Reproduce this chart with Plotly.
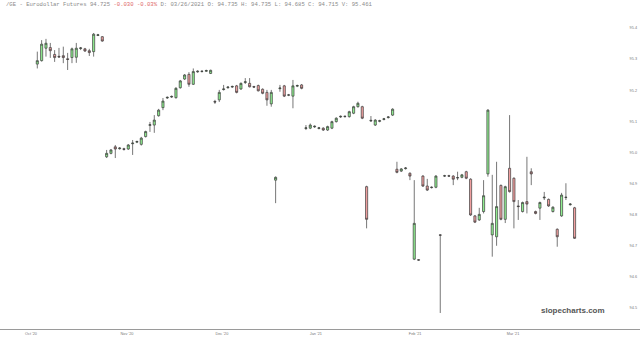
import pandas as pd
import plotly.graph_objects as go

# ---- data ----
dates = [d.strftime("%Y-%m-%d") for d in pd.bdate_range("2020-10-01", "2021-03-26")
         if d.strftime("%Y-%m-%d") not in ("2020-12-25", "2021-01-01")]

opens = [95.284, 95.295, 95.335, 95.337, 95.315, 95.309, 95.311, 95.301, 95.305, 95.306,
         95.334, 95.333, 95.327, 95.324, 95.376, 95.372, 94.986, 94.997, 95.018, 95.012,
         95.012, 95.011, 95.028, 95.033, 95.026, 95.051, 95.087, 95.088, 95.118, 95.144,
         95.175, 95.178, 95.176, 95.208, 95.236, 95.251, 95.219, 95.259, 95.260, 95.261,
         95.254, 95.164, 95.169, 95.202, 95.208, 95.210, 95.214, 95.204, 95.225, 95.222,
         95.212, 95.215, 95.203, 95.193, 95.156, 94.911, 95.205, 95.214, 95.184, 95.181,
         95.213, 95.217, 95.077, 95.078, 95.082, 95.077, 95.078, 95.072, 95.078, 95.099,
         95.114, 95.115, 95.115, 95.126, 95.147, 95.147, 94.890, 95.101, 95.088, 95.100,
         95.106, 95.112, 95.120, 94.946, 94.940, 94.948, 94.933, 94.657, 94.655, 94.924,
         94.892, 94.887, 94.888, 94.735, 94.924, 94.925, 94.924, 94.918, 94.920, 94.938,
         94.914, 94.796, 94.783, 94.810, 94.931, 94.735, 94.729, 94.894, 94.785, 94.949,
         94.917, 94.828, 94.810, 94.842, 94.938, 94.810, 94.821, 94.854, 94.849, 94.810,
         94.753, 94.796, 94.855, 94.832, 94.822]

highs = [95.324, 95.361, 95.365, 95.352, 95.329, 95.336, 95.340, 95.320, 95.337, 95.352,
         95.339, 95.336, 95.333, 95.384, 95.381, 95.374, 95.008, 95.011, 95.024, 95.017,
         95.015, 95.027, 95.040, 95.038, 95.050, 95.070, 95.098, 95.120, 95.140, 95.175,
         95.180, 95.183, 95.210, 95.233, 95.252, 95.258, 95.270, 95.264, 95.264, 95.266,
         95.266, 95.169, 95.201, 95.217, 95.213, 95.215, 95.217, 95.225, 95.239, 95.239,
         95.214, 95.218, 95.206, 95.201, 95.201, 94.923, 95.217, 95.217, 95.188, 95.233,
         95.218, 95.220, 95.088, 95.093, 95.087, 95.082, 95.081, 95.086, 95.102, 95.113,
         95.119, 95.119, 95.134, 95.150, 95.163, 95.150, 94.893, 95.117, 95.107, 95.105,
         95.111, 95.117, 95.142, 94.970, 94.950, 94.953, 94.936, 94.911, 94.657, 94.927,
         94.915, 94.891, 94.927, 94.737, 94.928, 94.928, 94.927, 94.938, 94.931, 94.941,
         94.917, 94.799, 94.822, 94.911, 95.139, 94.928, 94.970, 94.897, 94.893, 95.120,
         94.920, 94.847, 94.842, 94.986, 94.949, 94.813, 94.842, 94.873, 94.852, 94.827,
         94.756, 94.870, 94.901, 94.837, 94.825]

lows = [95.270, 95.292, 95.308, 95.304, 95.291, 95.304, 95.287, 95.265, 95.287, 95.288,
        95.329, 95.323, 95.310, 95.308, 95.374, 95.356, 94.982, 94.994, 94.982, 95.009,
        95.006, 95.008, 94.992, 95.030, 95.022, 95.048, 95.066, 95.063, 95.115, 95.136,
        95.172, 95.175, 95.173, 95.205, 95.233, 95.211, 95.217, 95.256, 95.257, 95.259,
        95.252, 95.156, 95.162, 95.199, 95.205, 95.207, 95.190, 95.201, 95.220, 95.209,
        95.207, 95.196, 95.187, 95.150, 95.147, 94.837, 95.195, 95.178, 95.181, 95.142,
        95.210, 95.203, 95.072, 95.075, 95.079, 95.074, 95.069, 95.069, 95.075, 95.096,
        95.111, 95.112, 95.112, 95.123, 95.144, 95.107, 94.756, 95.098, 95.085, 95.097,
        95.103, 95.109, 95.117, 94.933, 94.937, 94.945, 94.911, 94.654, 94.652, 94.889,
        94.876, 94.884, 94.885, 94.484, 94.921, 94.921, 94.895, 94.911, 94.917, 94.914,
        94.796, 94.773, 94.780, 94.804, 94.922, 94.665, 94.700, 94.782, 94.773, 94.871,
        94.756, 94.783, 94.807, 94.804, 94.895, 94.801, 94.783, 94.847, 94.825, 94.807,
        94.697, 94.793, 94.847, 94.829, 94.722]

closes = [95.295, 95.348, 95.351, 95.327, 95.305, 95.307, 95.305, 95.299, 95.333, 95.335,
          95.336, 95.326, 95.321, 95.380, 95.378, 95.358, 94.997, 95.008, 95.011, 95.014,
          95.010, 95.024, 95.030, 95.035, 95.046, 95.067, 95.089, 95.104, 95.136, 95.165,
          95.177, 95.180, 95.206, 95.230, 95.249, 95.219, 95.260, 95.261, 95.261, 95.263,
          95.264, 95.162, 95.193, 95.204, 95.210, 95.212, 95.193, 95.222, 95.227, 95.211,
          95.210, 95.198, 95.190, 95.169, 95.193, 94.920, 95.207, 95.181, 95.185, 95.214,
          95.215, 95.206, 95.079, 95.088, 95.084, 95.079, 95.072, 95.083, 95.099, 95.110,
          95.116, 95.116, 95.131, 95.147, 95.158, 95.110, 94.785, 95.103, 95.104, 95.102,
          95.108, 95.114, 95.139, 94.936, 94.947, 94.950, 94.924, 94.772, 94.654, 94.892,
          94.879, 94.888, 94.924, 94.734, 94.925, 94.924, 94.914, 94.919, 94.928, 94.917,
          94.799, 94.776, 94.801, 94.861, 95.136, 94.772, 94.826, 94.785, 94.890, 94.874,
          94.842, 94.826, 94.839, 94.834, 94.931, 94.804, 94.839, 94.856, 94.828, 94.824,
          94.729, 94.863, 94.856, 94.834, 94.724]

x_tick_pos = [-1.45, 20.7, 42.6, 64.3, 87.2, 109.8]
x_tick_text = ["Oct '20", "Nov '20", "Dec '20", "Jan '21", "Feb '21", "Mar '21"]
y_tick_vals = [94.5, 94.6, 94.7, 94.8, 94.9, 95.0, 95.1, 95.2, 95.3, 95.4]
y_tick_text = ["94.5", "94.6", "94.7", "94.8", "94.9", "95.0", "95.1", "95.2", "95.3", "95.4"]

header = ("/GE - Eurodollar Futures 94.725 "
          "<span style='color:#e06666'>-0.030 -0.03%</span> "
          "D: 03/26/2021 O: 94.735 H: 94.735 L: 94.685 C: 94.715 V: 95.461")

fig = go.Figure(go.Candlestick(
    x=dates, open=opens, high=highs, low=lows, close=closes,
    increasing=dict(fillcolor="#90ee90", line=dict(color="#3c3c3c", width=0.7)),
    decreasing=dict(fillcolor="#f2a0a0", line=dict(color="#3c3c3c", width=0.7)),
    whiskerwidth=0, showlegend=False,
))

fig.update_layout(
    width=640, height=343,
    margin=dict(l=0, r=0, t=12, b=14),
    paper_bgcolor="white", plot_bgcolor="white",
    xaxis=dict(type="category", range=[-8.61, 139.1], rangeslider=dict(visible=False),
               showgrid=False, showline=True, linecolor="#9a9a9a", linewidth=1,
               tickmode="array", tickvals=x_tick_pos, ticktext=x_tick_text,
               tickfont=dict(size=3.8, color="#777", family="Arial"), ticks="",
               zeroline=False),
    yaxis=dict(side="right", range=[94.4325, 95.4514], showgrid=False, zeroline=False,
               ticklabelposition="inside", tickmode="array", tickvals=y_tick_vals,
               ticktext=y_tick_text, tickfont=dict(size=3.8, color="#777", family="Arial"),
               ticks=""),
    annotations=[
        dict(text=header, xref="paper", yref="paper", x=4/640, y=1 + 7/317,
             xanchor="left", yanchor="middle", showarrow=False,
             font=dict(family="Liberation Mono", size=5.6, color="#8a8a8a")),
        dict(text="<b>slopecharts.com</b>", xref="paper", yref="paper", x=607/640,
             y=(329-310)/317, xanchor="right", yanchor="middle", showarrow=False,
             font=dict(family="Arial", size=8, color="#555")),
    ],
)

fig.write_html("out.html")
